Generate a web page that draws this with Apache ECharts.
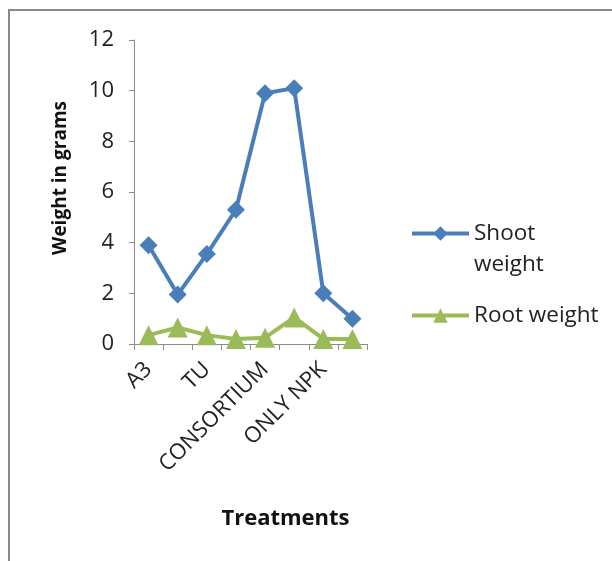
<!DOCTYPE html>
<html>
<head>
<meta charset="utf-8">
<script src="https://cdn.jsdelivr.net/npm/echarts@6/dist/echarts.min.js"></script>
<style>html,body{margin:0;padding:0;background:#fff}#c{width:612px;height:561px}</style>
</head>
<body>
<div id="c"></div>
<script>
const categories = ['A3', 'T2', 'TU', 'T4', 'CONSORTIUM', 'T6', 'ONLY NPK', 'T8'];
const shootWeight = [3.9, 1.95, 3.55, 5.3, 9.9, 10.1, 2.0, 1.0];
const rootWeight = [0.35, 0.65, 0.35, 0.2, 0.25, 1.05, 0.2, 0.2];
const yTicks = [0, 2, 4, 6, 8, 10, 12];

const font = '"Open Sans", Lato, sans-serif';
const chart = echarts.init(document.getElementById('c'), null, {renderer: 'canvas'});
chart.setOption({
  animation: false,
  backgroundColor: '#fff',
  graphic: [{
    type: 'polyline',
    shape: {points: [[9, 561], [9, 10], [612, 10]]},
    style: {stroke: '#8a8a8a', lineWidth: 2, fill: null}
  }],
  grid: {left: 134, right: 245, top: 40, bottom: 217, containLabel: false},
  legend: {
    orient: 'vertical',
    left: 405,
    top: 186,
    itemWidth: 57,
    itemHeight: 18,
    itemGap: 24,
    lineStyle: {width: 4},
    textStyle: {fontFamily: font, fontSize: 22.5, color: '#222', lineHeight: 31,
      rich: {a: {fontFamily: font, fontSize: 22.5, color: '#222', lineHeight: 31, padding: [31, 0, 0, 0]}}},
    formatter: function (n) { return n === 'Shoot weight' ? '{a|Shoot\nweight}' : n; },
    data: ['Shoot weight', 'Root weight']
  },
  xAxis: {
    type: 'category',
    data: categories,
    boundaryGap: true,
    name: 'Treatments',
    nameLocation: 'middle',
    nameGap: 164,
    nameTextStyle: {fontFamily: font, fontSize: 22, fontWeight: 'bold', color: '#111', padding: [0, 0, 0, 70]},
    axisLine: {lineStyle: {color: '#8c8c8c', width: 1}},
    axisTick: {show: true, interval: 0, length: 6, lineStyle: {color: '#8c8c8c'}},
    axisLabel: {interval: 1, rotate: 45, fontFamily: font, fontSize: 22, color: '#222', margin: 22},
    splitLine: {show: false}
  },
  yAxis: {
    type: 'value',
    min: yTicks[0],
    max: yTicks[yTicks.length - 1],
    interval: 2,
    name: 'Weight in grams',
    nameLocation: 'middle',
    nameGap: 64,
    nameRotate: 90,
    nameTextStyle: {fontFamily: font, fontSize: 19, fontWeight: 'bold', color: '#111', padding: [0, 0, 0, 28]},
    axisLine: {show: true, lineStyle: {color: '#8c8c8c', width: 1}},
    axisTick: {show: true, length: 5, inside: false, lineStyle: {color: '#8c8c8c'}},
    axisLabel: {fontFamily: font, fontSize: 22, color: '#222', margin: 20},
    splitLine: {show: false}
  },
  series: [{
    name: 'Shoot weight',
    type: 'line',
    data: shootWeight,
    symbol: 'diamond',
    symbolSize: 18,
    showAllSymbol: true,
    lineStyle: {color: '#4a7ebb', width: 4},
    itemStyle: {color: '#4a7ebb'}
  }, {
    name: 'Root weight',
    type: 'line',
    data: rootWeight,
    symbol: 'triangle',
    symbolSize: 20,
    showAllSymbol: true,
    lineStyle: {color: '#9bbb59', width: 4},
    itemStyle: {color: '#9bbb59'}
  }]
});
</script>
</body>
</html>
